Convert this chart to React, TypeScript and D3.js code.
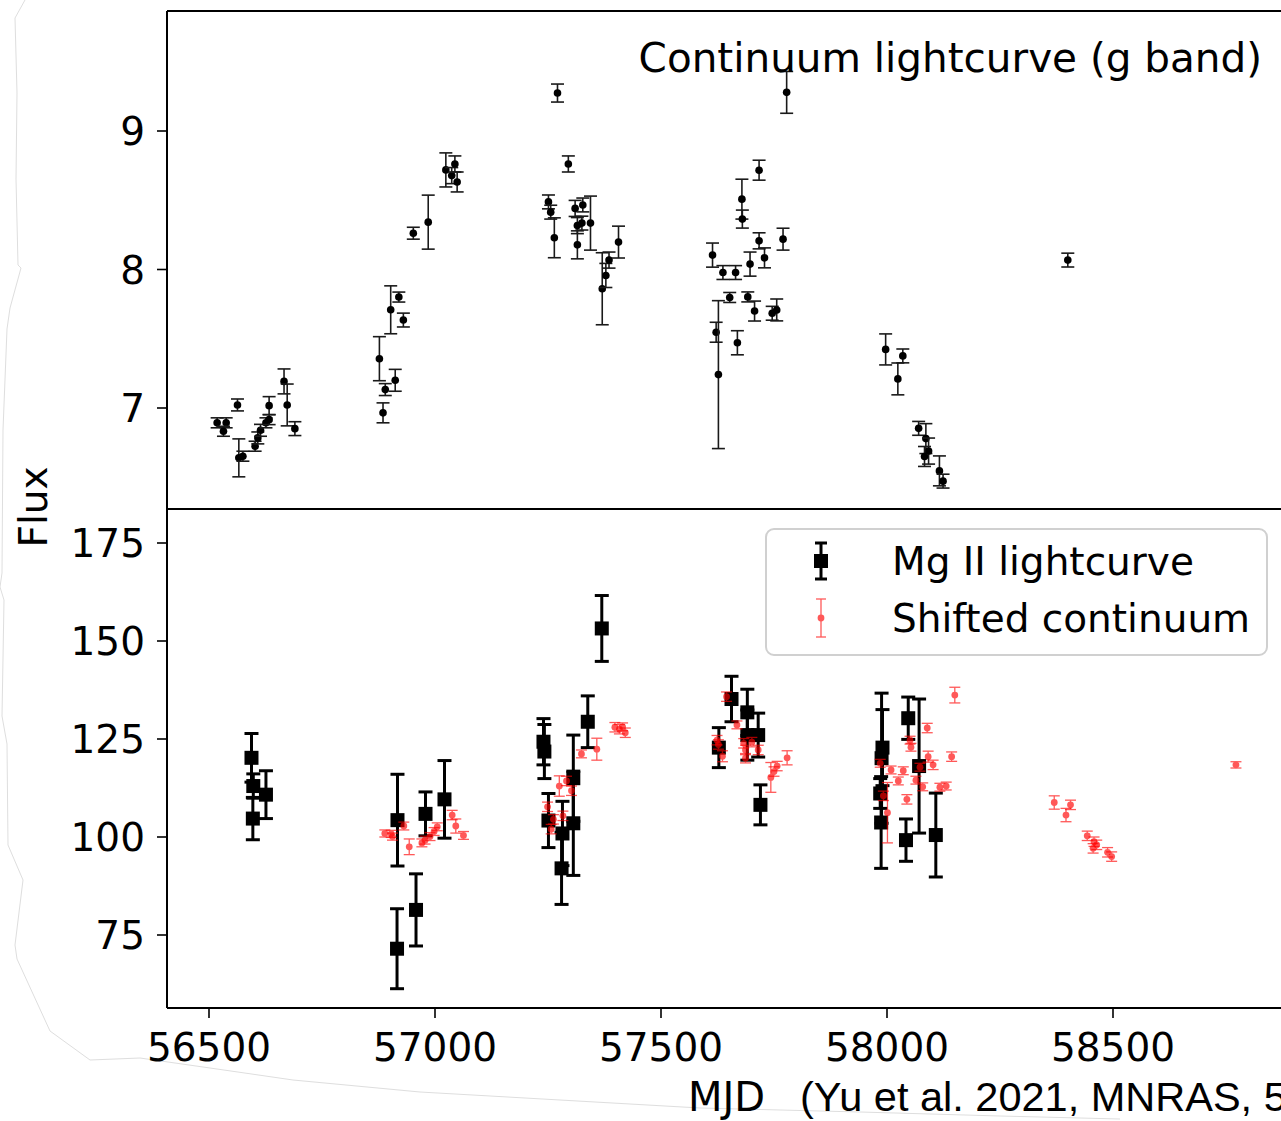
import React from "react";
import * as d3 from "d3";

// ---- Continuum light curve (g band) : top panel ----
const contMJD = [56518, 56538, 56532, 56563, 56566, 56575, 56602, 56608, 56614, 56626, 56633, 56633, 56666, 56673, 56690,
  56877, 56885, 56890, 56902, 56912, 56920, 56930, 56952, 56985, 57024, 57037, 57044, 57049,
  57251, 57256, 57264, 57271, 57295, 57310, 57315, 57315, 57325, 57327, 57344, 57370, 57378, 57385, 57406,
  57614, 57622, 57627, 57637, 57652, 57665, 57669, 57679, 57680, 57692, 57697, 57707, 57717, 57717, 57729, 57746, 57756, 57770, 57778,
  57997, 58024, 58035, 58070, 58086, 58092, 58083, 58116, 58124, 58400];
const contFlux = [6.893, 6.893, 6.832, 7.022, 6.640, 6.652, 6.724, 6.784, 6.839, 6.893, 6.916, 7.017, 7.192, 7.022, 6.851,
  7.356, 6.965, 7.133, 7.709, 7.200, 7.801, 7.635, 8.262, 8.342, 8.719, 8.678, 8.762, 8.632,
  8.488, 8.414, 8.229, 9.274, 8.762, 8.441, 8.317, 8.178, 8.335, 8.466, 8.335, 7.861, 7.957, 8.068, 8.198,
  8.104, 7.547, 7.241, 7.978, 7.798, 7.978, 7.471, 8.508, 8.364, 7.802, 8.039, 7.700, 8.717, 8.207, 8.084, 7.684, 7.708, 8.219, 9.279,
  7.423, 7.210, 7.376, 6.853, 6.779, 6.689, 6.650, 6.546, 6.472, 8.068];
const contErr = [0.036, 0.036, 0.036, 0.043, 0.137, 0.036, 0.036, 0.043, 0.043, 0.036, 0.036, 0.065, 0.090, 0.151, 0.050,
  0.159, 0.072, 0.043, 0.173, 0.079, 0.036, 0.050, 0.043, 0.195, 0.123, 0.058, 0.058, 0.072,
  0.050, 0.050, 0.144, 0.065, 0.058, 0.058, 0.058, 0.101, 0.050, 0.050, 0.195, 0.260, 0.087, 0.058, 0.115,
  0.087, 0.072, 0.534, 0.050, 0.036, 0.050, 0.087, 0.144, 0.065, 0.036, 0.087, 0.072, 0.072, 0.058, 0.072, 0.050, 0.079, 0.079, 0.151,
  0.112, 0.115, 0.050, 0.050, 0.108, 0.094, 0.072, 0.108, 0.050, 0.050];

// ---- Mg II light curve : bottom panel ----
const mgMJD = [56594, 56598, 56597, 56626, 56917, 56916, 56958, 56979, 57021,
  57240, 57242, 57251, 57282, 57280, 57306, 57306, 57338, 57369,
  57628, 57656, 57691, 57691, 57715, 57720,
  57990, 57988, 57985, 57987, 58047, 58071, 58042, 58108];
const mgFlux = [120.2, 113.0, 104.7, 110.8, 104.3, 71.5, 81.4, 105.9, 109.6,
  124.3, 121.8, 104.2, 100.9, 92.0, 115.0, 103.5, 129.4, 153.2,
  122.8, 135.2, 131.8, 126.0, 126.0, 108.2,
  122.8, 120.1, 111.1, 103.7, 130.3, 118.1, 99.2, 100.5];
const mgErr = [6.2, 3.1, 5.4, 6.1, 11.7, 10.2, 9.2, 5.6, 9.9,
  5.9, 6.9, 6.9, 8.2, 9.2, 11.0, 13.3, 6.6, 8.4,
  5.1, 5.8, 5.9, 6.4, 5.6, 5.1,
  9.7, 16.6, 3.8, 11.7, 5.4, 17.1, 5.4, 10.7];

// ---- Shifted continuum : bottom panel ----
const shMJD = [56889, 56903, 56906, 56931, 56943, 56971, 56978, 56989, 56998, 57005, 57038, 57046, 57063,
  57249, 57262, 57257, 57275, 57291, 57302, 57283, 57324, 57358, 57398, 57408, 57415, 57421,
  57645, 57668, 57627, 57636, 57683, 57701, 57687, 57687, 57715, 57743, 57750, 57757, 57779, 57624,
  58150, 58089, 58051, 58053, 58091, 58102, 58143, 57985, 58009, 58036, 58025, 58064, 58079, 58117, 58131, 58073, 57992, 58044, 58001,
  58370, 58406, 58396, 58443, 58458, 58464, 58456, 58488, 58497, 58772];
const shFlux = [100.9, 100.8, 100.1, 102.8, 97.5, 98.5, 99.2, 100.1, 101.4, 102.6, 105.6, 102.8, 100.4,
  107.7, 104.5, 102.0, 113.0, 114.3, 111.8, 105.4, 121.2, 122.4, 128.0, 127.5, 128.1, 126.6,
  135.8, 128.6, 123.6, 120.6, 123.9, 124.2, 122.2, 120.1, 122.2, 115.2, 116.7, 118.1, 120.2, 124.7,
  136.2, 127.8, 124.7, 122.9, 120.5, 118.4, 120.5, 118.8, 117.1, 116.9, 114.3, 114.5, 112.8, 112.7, 113.0, 117.8, 110.5, 109.6, 106.2,
  108.8, 108.2, 105.6, 100.3, 98.8, 98.0, 97.1, 96.1, 95.0, 118.4];
const shErr = [0.9, 0.9, 0.9, 1.0, 2.0, 1.0, 1.0, 1.0, 1.0, 1.0, 1.2, 1.8, 1.0,
  1.2, 1.2, 1.2, 2.6, 1.2, 1.2, 1.2, 1.0, 2.8, 1.2, 1.2, 1.0, 1.2,
  1.2, 1.0, 1.2, 1.4, 1.2, 1.2, 1.2, 1.2, 1.2, 3.8, 1.2, 1.2, 1.8, 1.2,
  2.0, 1.2, 1.0, 1.0, 1.4, 1.2, 1.2, 1.0, 1.0, 1.0, 1.0, 1.0, 1.0, 1.0, 1.0, 1.0, 1.2, 1.2, 7.7,
  1.7, 1.2, 1.7, 1.2, 1.2, 1.2, 1.2, 1.2, 1.2, 0.8];

const xTicks = [56500, 57000, 57500, 58000, 58500];
const topTicks = [7, 8, 9];
const botTicks = [75, 100, 125, 150, 175];

const W = 1281, H = 1121;
const LEFT = 167, TOP = 11, MID = 509, BOT = 1008;
const FONT = "'DejaVu Sans', sans-serif";

export default function App() {
  const x = d3.scaleLinear().domain([56500, 58500]).range([209, 1113]);
  const yT = d3.scaleLinear().domain([7, 9]).range([408, 131]);
  const yB = d3.scaleLinear().domain([75, 175]).range([935, 543]);

  const tornPts: [number, number][] = [[25, 0], [15, 18], [17, 93], [16, 179], [18, 265], [21, 268], [10, 308], [7, 329], [3, 430],
    [2, 573], [0, 587], [4, 600], [2, 716], [7, 744], [8, 845], [23, 880], [15, 945], [17, 959], [50, 1031], [90, 1060],
    [140, 1058], [210, 1068], [293, 1080], [420, 1092], [560, 1100], [700, 1108], [860, 1112], [1000, 1116], [1120, 1119]];
  const torn = d3.line().curve(d3.curveLinear)(tornPts) || "";

  const topPts = contMJD.map((m, i) => ({ m, f: contFlux[i], e: contErr[i] }));
  const mgPts = mgMJD.map((m, i) => ({ m, f: mgFlux[i], e: mgErr[i] }));
  const shPts = shMJD.map((m, i) => ({ m, f: shFlux[i], e: shErr[i] }));

  return (
    <svg width={W} height={H} viewBox={`0 0 ${W} ${H}`}
      style={{ position: "absolute", left: 0, top: 0, background: "#fff", fontFamily: FONT }}>
      <defs>
        <clipPath id="clipTop"><rect x={LEFT} y={TOP} width={W - LEFT} height={MID - TOP} /></clipPath>
        <clipPath id="clipBot"><rect x={LEFT} y={MID} width={W - LEFT} height={BOT - MID} /></clipPath>
      </defs>
      <rect x={0} y={0} width={W} height={H} fill="#fff" />
      <path d={torn} fill="none" stroke="#dedede" strokeWidth={1} />

      {/* top panel points */}
      <g clipPath="url(#clipTop)">
        {topPts.map((p, i) => {
          const cx = x(p.m), y0 = yT(p.f - p.e), y1 = yT(p.f + p.e);
          return (
            <g key={i}>
              <line x1={cx} x2={cx} y1={y0} y2={y1} stroke="#1a1a1a" strokeWidth={1.6} />
              <line x1={cx - 6.5} x2={cx + 6.5} y1={y0} y2={y0} stroke="#1a1a1a" strokeWidth={1.6} />
              <line x1={cx - 6.5} x2={cx + 6.5} y1={y1} y2={y1} stroke="#1a1a1a" strokeWidth={1.6} />
              <circle cx={cx} cy={yT(p.f)} r={3.8} fill="#000" />
            </g>
          );
        })}
        <text x={1262} y={72} textAnchor="end" fontSize={40.5} fill="#000">Continuum lightcurve (g band)</text>
      </g>

      {/* bottom panel points */}
      <g clipPath="url(#clipBot)">
        {mgPts.map((p, i) => {
          const cx = x(p.m), y0 = yB(p.f - p.e), y1 = yB(p.f + p.e);
          return (
            <g key={i}>
              <line x1={cx} x2={cx} y1={y0} y2={y1} stroke="#000" strokeWidth={3} />
              <line x1={cx - 7} x2={cx + 7} y1={y0} y2={y0} stroke="#000" strokeWidth={3} />
              <line x1={cx - 7} x2={cx + 7} y1={y1} y2={y1} stroke="#000" strokeWidth={3} />
              <rect x={cx - 7} y={yB(p.f) - 7} width={14} height={14} fill="#000" />
            </g>
          );
        })}
        {shPts.map((p, i) => {
          const cx = x(p.m), y0 = yB(p.f - p.e), y1 = yB(p.f + p.e);
          return (
            <g key={i} opacity={0.65}>
              <line x1={cx} x2={cx} y1={y0} y2={y1} stroke="#ff0000" strokeWidth={1.3} />
              <line x1={cx - 5.5} x2={cx + 5.5} y1={y0} y2={y0} stroke="#ff0000" strokeWidth={1.3} />
              <line x1={cx - 5.5} x2={cx + 5.5} y1={y1} y2={y1} stroke="#ff0000" strokeWidth={1.3} />
              <circle cx={cx} cy={yB(p.f)} r={3.4} fill="#ff0000" />
            </g>
          );
        })}
      </g>

      {/* spines */}
      <line x1={LEFT} x2={LEFT} y1={TOP} y2={BOT} stroke="#000" strokeWidth={2} />
      <line x1={LEFT} x2={W} y1={TOP} y2={TOP} stroke="#000" strokeWidth={2} />
      <line x1={LEFT} x2={W} y1={MID} y2={MID} stroke="#000" strokeWidth={2} />
      <line x1={LEFT} x2={W} y1={BOT} y2={BOT} stroke="#000" strokeWidth={2} />

      {/* y ticks top */}
      {topTicks.map(t => (
        <g key={"t" + t}>
          <line x1={LEFT - 10} x2={LEFT} y1={yT(t)} y2={yT(t)} stroke="#000" strokeWidth={1.6} />
          <text x={145} y={yT(t)} dy="0.36em" textAnchor="end" fontSize={39}>{t}</text>
        </g>
      ))}
      {/* y ticks bottom */}
      {botTicks.map(t => (
        <g key={"b" + t}>
          <line x1={LEFT - 10} x2={LEFT} y1={yB(t)} y2={yB(t)} stroke="#000" strokeWidth={1.6} />
          <text x={145} y={yB(t)} dy="0.36em" textAnchor="end" fontSize={39}>{t}</text>
        </g>
      ))}
      {/* x ticks */}
      {xTicks.map(t => (
        <g key={"x" + t}>
          <line x1={x(t)} x2={x(t)} y1={BOT} y2={BOT + 10} stroke="#000" strokeWidth={1.6} />
          <text x={x(t)} y={1061} textAnchor="middle" fontSize={39}>{t}</text>
        </g>
      ))}

      <text transform="translate(47,507) rotate(-90)" textAnchor="middle" fontSize={39}>Flux</text>
      <text x={688} y={1111} fontSize={40}>MJD</text>
      <text x={800} y={1111} fontSize={41.5} fontFamily="'Liberation Sans', Arial, sans-serif">(Yu et al. 2021, MNRAS, 5</text>

      {/* legend */}
      <rect x={766} y={529} width={501} height={126} rx={8} fill="#fff" fillOpacity={0.8} stroke="#d0d0d0" strokeWidth={2} />
      <g>
        <line x1={821} x2={821} y1={543} y2={579} stroke="#000" strokeWidth={3} />
        <line x1={815} x2={827} y1={543} y2={543} stroke="#000" strokeWidth={3} />
        <line x1={815} x2={827} y1={579} y2={579} stroke="#000" strokeWidth={3} />
        <rect x={814} y={554} width={14} height={14} fill="#000" />
        <text x={892} y={575} fontSize={39}>Mg II lightcurve</text>
      </g>
      <g opacity={0.65}>
        <line x1={821} x2={821} y1={599} y2={637} stroke="#ff0000" strokeWidth={1.3} />
        <line x1={816} x2={826} y1={599} y2={599} stroke="#ff0000" strokeWidth={1.3} />
        <line x1={816} x2={826} y1={637} y2={637} stroke="#ff0000" strokeWidth={1.3} />
        <circle cx={821} cy={618} r={3.4} fill="#ff0000" />
      </g>
      <text x={892} y={632} fontSize={39}>Shifted continuum</text>
    </svg>
  );
}
